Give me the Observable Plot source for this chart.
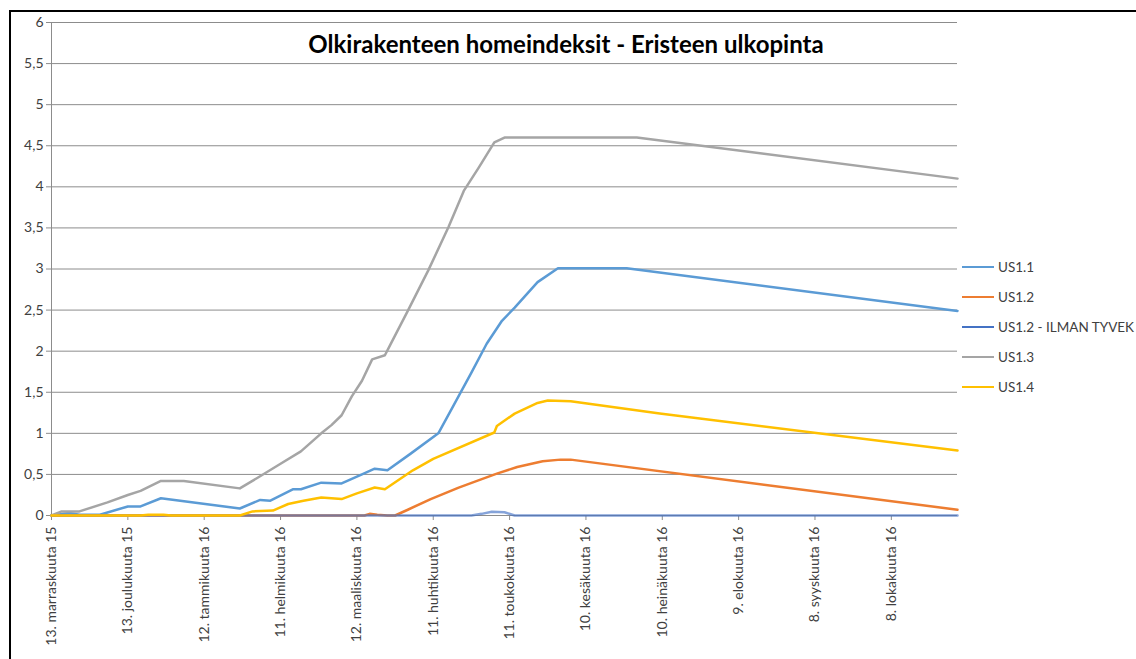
<!DOCTYPE html>
<html>
<head>
<meta charset="utf-8">
<script src="https://cdn.jsdelivr.net/npm/d3@7"></script>
<script src="https://cdn.jsdelivr.net/npm/@observablehq/plot@0.6"></script>
<style>
  html, body { margin: 0; padding: 0; background: #fff; }
  body { width: 1136px; height: 659px; overflow: hidden; position: relative; font-family: Lato, "Open Sans", sans-serif; }
  #frame { position: absolute; left: 9px; top: 10px; width: 1200px; height: 700px; border-top: 2px solid #000; border-left: 2px solid #000; }
  #chart { position: absolute; left: 0; top: 0; }
  #title { position: absolute; left: 0; width: 1132px; top: 29px; text-align: center; font-weight: 700; font-size: 24px; color: #000; }
  .leg { position: absolute; left: 962px; font-size: 13.5px; color: #404040; white-space: nowrap; display: flex; align-items: center; }
  .leg span.sw { display: inline-block; width: 32px; height: 2.5px; margin-right: 4px; }
</style>
</head>
<body>
<div id="frame"></div>
<div id="chart"></div>
<div id="title">Olkirakenteen homeindeksit - Eristeen ulkopinta</div>
<div id="legend"></div>
<script>
// ---- data ----
const seriesNames = ["US1.1", "US1.2", "US1.2 - ILMAN TYVEK", "US1.3", "US1.4"];
const seriesColors = ["#5b9bd5", "#ed7d31", "#4472c4", "#a5a5a5", "#ffc000"];

const us11 = [["2015-11-13",0],["2015-11-20",0.03],["2015-11-24",0.01],["2015-12-02",0.01],["2015-12-13",0.11],["2015-12-18",0.11],["2015-12-26",0.21],["2016-01-26",0.085],["2016-02-03",0.19],["2016-02-07",0.18],["2016-02-16",0.32],["2016-02-19",0.32],["2016-02-27",0.40],["2016-03-06",0.39],["2016-03-14",0.50],["2016-03-19",0.57],["2016-03-24",0.55],["2016-04-02",0.75],["2016-04-13",1.0],["2016-04-19",1.34],["2016-04-26",1.74],["2016-05-02",2.09],["2016-05-08",2.37],["2016-05-13",2.53],["2016-05-22",2.84],["2016-05-30",3.01],["2016-06-26",3.01],["2016-11-03",2.49]];
const us12 = [["2015-11-13",0],["2016-03-15",0],["2016-03-17",0.02],["2016-03-20",0.01],["2016-03-24",0],["2016-03-27",0],["2016-04-01",0.07],["2016-04-10",0.20],["2016-04-21",0.34],["2016-04-29",0.43],["2016-05-06",0.51],["2016-05-14",0.59],["2016-05-24",0.66],["2016-05-31",0.68],["2016-06-04",0.68],["2016-11-03",0.07]];
const us12tyvek = [["2015-11-13",0],["2016-04-26",0],["2016-04-30",0.02],["2016-05-04",0.045],["2016-05-09",0.04],["2016-05-13",0],["2016-11-03",0]];
const us13 = [["2015-11-13",0],["2015-11-17",0.05],["2015-11-24",0.05],["2015-12-05",0.16],["2015-12-13",0.25],["2015-12-18",0.30],["2015-12-26",0.42],["2016-01-04",0.42],["2016-01-26",0.33],["2016-02-02",0.46],["2016-02-11",0.63],["2016-02-19",0.78],["2016-02-27",1.0],["2016-03-02",1.10],["2016-03-06",1.22],["2016-03-10",1.45],["2016-03-14",1.64],["2016-03-18",1.90],["2016-03-23",1.95],["2016-03-25",2.07],["2016-04-01",2.49],["2016-04-09",2.98],["2016-04-17",3.51],["2016-04-23",3.95],["2016-04-29",4.24],["2016-05-05",4.54],["2016-05-09",4.60],["2016-06-30",4.60],["2016-11-03",4.10]];
const us14 = [["2015-11-13",0],["2015-12-18",0],["2015-12-21",0.01],["2015-12-27",0.01],["2015-12-30",0],["2016-01-26",0],["2016-01-31",0.05],["2016-02-08",0.06],["2016-02-14",0.14],["2016-02-20",0.18],["2016-02-27",0.22],["2016-03-06",0.20],["2016-03-12",0.27],["2016-03-19",0.34],["2016-03-23",0.32],["2016-04-03",0.55],["2016-04-11",0.69],["2016-05-05",1.01],["2016-05-06",1.09],["2016-05-13",1.24],["2016-05-22",1.37],["2016-05-26",1.40],["2016-06-04",1.39],["2016-07-09",1.24],["2016-11-03",0.79]];

const xTickDates = ["2015-11-13","2015-12-13","2016-01-12","2016-02-11","2016-03-12","2016-04-11","2016-05-11","2016-06-10","2016-07-10","2016-08-09","2016-09-08","2016-10-08"];
const xTickLabels = ["13. marraskuuta 15","13. joulukuuta 15","12. tammikuuta 16","11. helmikuuta 16","12. maaliskuuta 16","11. huhtikuuta 16","11. toukokuuta 16","10. kesäkuuta 16","10. heinäkuuta 16","9. elokuuta 16","8. syyskuuta 16","8. lokakuuta 16"];
const yTicks = [0,0.5,1,1.5,2,2.5,3,3.5,4,4.5,5,5.5,6];
const xDomain = ["2015-11-13","2016-11-03"];

// ---- build ----
const parse = d3.utcParse("%Y-%m-%d");
const allSeries = [us11, us12, us12tyvek, us13, us14];
const rows = allSeries.flatMap((s, i) => s.map(([d, v]) => ({date: parse(d), value: v, series: seriesNames[i]})));
const tickDates = xTickDates.map(parse);
const gridColor = "#8c8c8c";

const lineMarks = seriesNames.map((name, i) =>
  Plot.line(rows.filter(r => r.series === name), {
    x: "date", y: "value",
    stroke: seriesColors[i],
    strokeWidth: 2.5,
    strokeOpacity: name === "US1.2 - ILMAN TYVEK" ? 0.65 : 1,
    curve: "linear"
  })
);

const chart = Plot.plot({
  width: 1136,
  height: 659,
  marginLeft: 51,
  marginRight: 179,
  marginTop: 22,
  marginBottom: 144,
  style: {fontFamily: "Lato, 'Open Sans', sans-serif", fontSize: "14px", color: "#404040", background: "transparent"},
  x: {type: "utc", domain: xDomain.map(parse)},
  y: {domain: [0, 6]},
  marks: [
    Plot.gridY(yTicks, {stroke: gridColor, strokeOpacity: 1, strokeWidth: 1}),
    Plot.axisY(yTicks, {tickFormat: d => String(d).replace(".", ","), tickSize: 5, tickPadding: 3, stroke: gridColor, label: null, fontSize: 14, fill: "#404040"}),
    Plot.ruleX([parse(xDomain[0])], {stroke: gridColor}),
    Plot.axisX(tickDates, {tickFormat: (d, i) => xTickLabels[i], tickRotate: -90, tickSize: 5, tickPadding: 6, stroke: gridColor, label: null, fontSize: 14, fill: "#404040"}),
    ...lineMarks
  ]
});
document.getElementById("chart").appendChild(chart);

// legend
const legend = document.getElementById("legend");
seriesNames.forEach((name, i) => {
  const div = document.createElement("div");
  div.className = "leg";
  div.style.top = (259 + i * 30) + "px";
  div.innerHTML = `<span class="sw" style="background:${seriesColors[i]}"></span><span>${name}</span>`;
  legend.appendChild(div);
});
</script>
</body>
</html>
